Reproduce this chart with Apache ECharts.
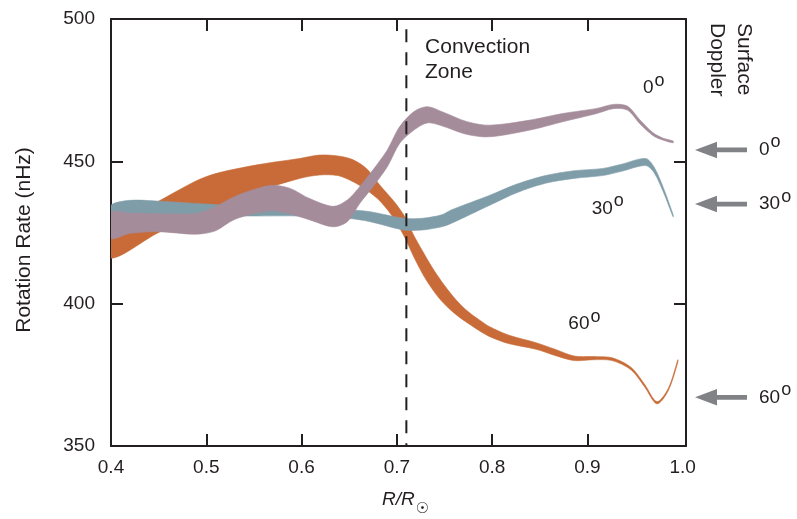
<!DOCTYPE html>
<html><head><meta charset="utf-8">
<script src="https://cdn.jsdelivr.net/npm/echarts@6/dist/echarts.min.js"></script>
<style>html,body{margin:0;padding:0;background:#fff}#c{width:797px;height:519px}</style>
</head><body><div id="c"></div>
<script>
// ---- data ----
const xTicks = [0.4, 0.5, 0.6, 0.7, 0.8, 0.9, 1.0];
const yTicks = [350, 400, 450, 500];

// 60 degree band
const radius60 = [0.400,0.450,0.499,0.549,0.598,0.619,0.638,0.653,0.668,0.683,0.698,0.709,0.717,0.727,0.737,0.747,0.757,0.767,0.777,0.787,0.797,0.817,0.846,0.866,0.886,0.906,0.926,0.946,0.960,0.973,0.985,0.995];
const lower60  = [416,425,432.5,439,444,445.2,445,443,440,435.8,429.4,422.8,417,410.5,405.2,400.9,397.6,394.9,392.6,390.4,388.5,386,384,381.8,380,380.3,380,376.7,370.8,364.8,369.5,379.5];
const upper60  = [427,436,444.5,448.5,451,452.2,451.9,450.7,447.5,441.3,435.5,430.2,424.5,418.5,412.8,407.8,403.4,399.6,396.6,394.2,392,389,386.3,384,381.6,381.4,381,377.6,371.7,365.6,370.3,380.3];

// 30 degree band
const radius30 = [0.400,0.420,0.450,0.499,0.549,0.598,0.648,0.672,0.707,0.727,0.747,0.757,0.797,0.826,0.856,0.886,0.916,0.936,0.961,0.970,0.980,0.990];
const lower30  = [430.5,431.5,431.5,431,430.8,430.8,430,428.8,425.9,425.9,427,428.2,434.5,439,442.3,444,445,446.5,448.5,446,439,430.5];
const upper30  = [434.6,436.3,436,435,434,433.5,433,432.3,430,430,431.2,432.9,438,442,445,446.7,447.5,449,451,448,440.5,431.2];

// 0 degree band
const radius0 = [0.400,0.420,0.449,0.489,0.509,0.529,0.549,0.569,0.588,0.608,0.633,0.648,0.661,0.675,0.690,0.703,0.718,0.732,0.747,0.773,0.797,0.840,0.874,0.910,0.927,0.942,0.955,0.969,0.979,0.990];
const lower0  = [423,424.7,425.3,424.4,425.5,429.5,431.5,432.6,431.5,429.5,427,428.8,435.2,441.1,448.1,456.3,461,463.5,462.5,459.5,458.6,461,463.9,466.8,468.5,468,463.2,459,457.5,456.5];
const upper0  = [432,431.8,431.6,431.7,434,437.5,440,441.6,440.5,437,434.2,436.4,441.1,447,454,462.2,467.5,469.2,467.5,464,462.7,464.5,466.8,468.6,470,469.4,464.6,460,458.2,457.1];

const convectionBase = 0.71;
const surfaceLat  = ['0', '30', '60'];
const surfaceRate = [454, 435, 367.1];

// ---- styling ----
const ink = '#231f20';
const FF = '"Liberation Sans", Arial, Helvetica, sans-serif';
const xMax = 1.0035;
const col60 = '#c86b38', col30 = '#7f9da9', col0 = '#a48c9a', arrowGray = '#808285';

const degRich = {
  d: {fontSize: 19, fontFamily: FF, fill: ink, verticalAlign: 'middle'},
  s: {fontSize: 18, fontFamily: FF, fill: ink, padding: [0, 0, 15, 1], verticalAlign: 'middle'}
};

function bandSeries(name, xs, lo, hi, color, z) {
  return {
    type: 'custom', name, coordinateSystem: 'cartesian2d', clip: true, z, silent: true,
    data: xs.map((x, i) => [x, lo[i], hi[i]]),
    encode: {x: 0, y: [1, 2]},
    renderItem: function (params, api) {
      if (params.dataIndex !== 0) return null;
      const top = xs.map((x, i) => api.coord([x, hi[i]]));
      const bottom = xs.map((x, i) => api.coord([x, lo[i]])).reverse();
      return {type: 'polygon', shape: {points: top.concat(bottom), smooth: 0.3},
              style: {fill: color, stroke: color, lineWidth: 0.6}};
    }
  };
}

const innerTicksX = xTicks.filter(v => v > xTicks[0] && v < xTicks[xTicks.length - 1]);
const innerTicksY = yTicks.filter(v => v > yTicks[0] && v < yTicks[yTicks.length - 1]);

function xAxisDef(pos, showLabels) {
  return {
    type: 'value', min: 0.4, max: xMax, position: pos,
    axisLine: {show: true, onZero: false, lineStyle: {color: ink, width: 2}},
    axisTick: {show: true, inside: true, length: 12, customValues: innerTicksX, lineStyle: {color: ink, width: 2}},
    axisLabel: {show: showLabels, customValues: xTicks, formatter: v => v.toFixed(1), fontSize: 19, fontFamily: FF, color: ink, margin: 12},
    splitLine: {show: false}
  };
}
function yAxisDef(pos, showLabels) {
  return {
    type: 'value', min: 350, max: 500, interval: 50, position: pos,
    axisLine: {show: true, onZero: false, lineStyle: {color: ink, width: 2}},
    axisTick: {show: true, inside: true, length: 12, customValues: innerTicksY, lineStyle: {color: ink, width: 2}},
    axisLabel: {show: showLabels, customValues: yTicks, formatter: v => String(v), fontSize: 19, fontFamily: FF, color: ink, margin: 16},
    splitLine: {show: false}
  };
}

const xBottom = xAxisDef('bottom', true);
xBottom.name = '{i|R/R}{s|☉}';
xBottom.nameLocation = 'middle';
xBottom.nameGap = 36;
xBottom.nameTextStyle = {
  padding: [0, 0, 0, 14],
  rich: {
    i: {fontStyle: 'italic', fontSize: 19, fontFamily: FF, color: ink, verticalAlign: 'middle'},
    s: {fontSize: 15, fontFamily: '"DejaVu Sans", sans-serif', color: ink, padding: [20, 0, 0, 1], verticalAlign: 'middle'}
  }
};
const yLeft = yAxisDef('left', true);
yLeft.name = 'Rotation Rate (nHz)';
yLeft.nameLocation = 'middle';
yLeft.nameRotate = 90;
yLeft.nameGap = 76;
yLeft.nameTextStyle = {fontSize: 21, fontFamily: FF, color: ink, padding: [0, 15, 0, 0]};

const annotations = [
  {at: [0.7296, 494.4], text: 'Convection\nZone', rich: false},
  {at: [0.9584, 475.7], text: '{d|0}{s|o}', rich: true},
  {at: [0.9045, 433.5], text: '{d|30}{s|o}', rich: true},
  {at: [0.8800, 392.8], text: '{d|60}{s|o}', rich: true}
];

const option = {
  animation: false,
  backgroundColor: '#ffffff',
  grid: {left: 111, right: 111, top: 19, bottom: 73, containLabel: false, outerBoundsMode: 'none'},
  xAxis: [xBottom, xAxisDef('top', false)],
  yAxis: [yLeft, yAxisDef('right', false)],
  series: [
    bandSeries('60°', radius60, lower60, upper60, col60, 2),
    bandSeries('30°', radius30, lower30, upper30, col30, 3),
    bandSeries('0°', radius0, lower0, upper0, col0, 4),
    {
      type: 'line', name: 'base', z: 5, silent: true, symbol: 'none',
      data: [[convectionBase, 500], [convectionBase, 350]],
      lineStyle: {color: ink, width: 2, type: [13, 10], dashOffset: 12.7}
    },
    {
      type: 'custom', name: 'annotations', coordinateSystem: 'cartesian2d', clip: false, z: 6, silent: true,
      data: annotations.map(a => a.at),
      renderItem: function (params, api) {
        const a = annotations[params.dataIndex];
        const p = api.coord(a.at);
        if (!a.rich) {
          return {type: 'text', x: p[0], y: p[1], style: {text: a.text, fontSize: 21, fontFamily: FF, fill: ink,
                  align: 'left', verticalAlign: 'top', lineHeight: 25}};
        }
        return {type: 'text', x: p[0], y: p[1], style: {text: a.text, rich: degRich, align: 'left', verticalAlign: 'middle'}};
      }
    },
    {
      type: 'custom', name: 'surface', coordinateSystem: 'cartesian2d', clip: false, z: 6, silent: true,
      data: surfaceRate.map(v => [xMax, v]),
      renderItem: function (params, api) {
        const p = api.coord([xMax, api.value(1)]);
        const x0 = p[0], y = p[1];
        return {type: 'group', children: [
          {type: 'polygon', shape: {points: [[x0 + 9, y], [x0 + 31, y - 8.3], [x0 + 31, y - 2.4], [x0 + 61, y - 2.4],
                                             [x0 + 61, y + 2.4], [x0 + 31, y + 2.4], [x0 + 31, y + 8.3]]},
           style: {fill: arrowGray}},
          {type: 'text', x: x0 + 73, y: y, style: {text: '{d|' + surfaceLat[params.dataIndex] + '}{s|o}', rich: degRich,
                                                   align: 'left', verticalAlign: 'middle'}}
        ]};
      }
    }
  ],
  graphic: [
    {type: 'text', x: 744, y: 23, rotation: -Math.PI / 2, silent: true,
     style: {text: 'Surface', fontSize: 21, fontFamily: FF, fill: ink, align: 'left', verticalAlign: 'middle'}},
    {type: 'text', x: 717, y: 23, rotation: -Math.PI / 2, silent: true,
     style: {text: 'Doppler', fontSize: 21, fontFamily: FF, fill: ink, align: 'left', verticalAlign: 'middle'}}
  ]
};

const chart = echarts.init(document.getElementById('c'), null, {renderer: 'canvas'});
chart.setOption(option);
</script>
</body></html>
